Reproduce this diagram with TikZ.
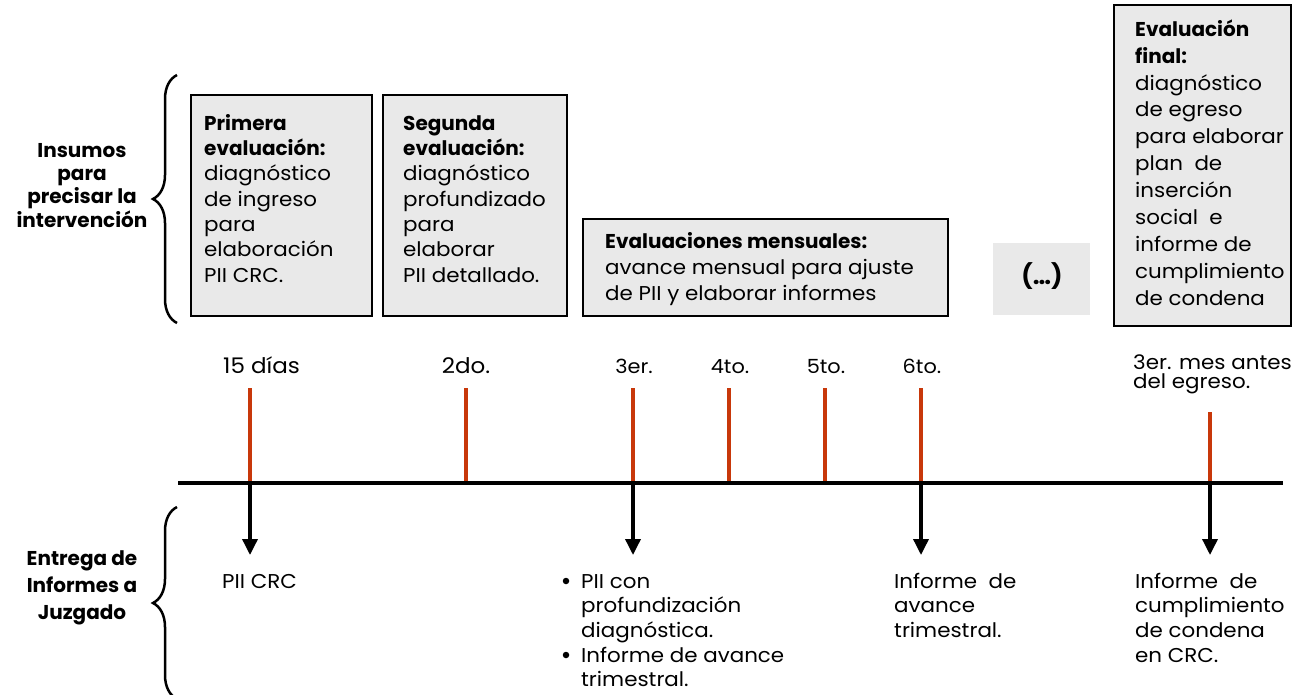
\documentclass[tikz,border=0pt]{standalone}
\usepackage{fontspec}
\setmainfont{Poppins}[FakeStretch=1.07,BoldFeatures={FakeStretch=1.0}]
\usetikzlibrary{decorations.pathreplacing,arrows.meta}
\definecolor{boxgray}{RGB}{233,233,233}
\definecolor{tickred}{RGB}{200,56,10}
\newcommand{\fs}[2]{\fontsize{#1}{#2}\selectfont}
\newcommand{\topr}{\rule{0pt}{18pt}}
\begin{document}
\begin{tikzpicture}[x=1pt,y=-1pt,
  box/.style={draw=black,line width=1.5pt,fill=boxgray,anchor=north west,inner sep=0pt},
  plainbox/.style={fill=boxgray,anchor=north west,inner sep=0pt},
  txt/.style={anchor=north west,inner sep=0pt,align=left,text=black},
  bodytxt/.style={txt,font=\fs{20}{25.3}},
  sidelabel/.style={anchor=north,inner sep=0pt,align=center,font=\bfseries\fs{20}{23.3}},
  tick/.style={draw=tickred,line width=3.5pt},
  axisline/.style={draw=black,line width=3.5pt},
  arrowline/.style={draw=black,line width=3.5pt,-{Triangle[width=15pt,length=16pt]}},
  bracestyle/.style={draw=black,line width=2.5pt,decorate,decoration={brace,amplitude=24pt}},
  bullet/.style={circle,fill=black,inner sep=0pt,minimum size=6.5pt},
  lbl/.style={anchor=base,inner sep=0pt}
]
\useasboundingbox (0,0) rectangle (1293,694);

% ---- left labels and braces
\node[sidelabel] (insumos) at (82,139) {\topr Insumos\\para\\precisar la\\intervención};
\node[sidelabel,font=\bfseries\fs{20}{27}] (entrega) at (82,547) {\topr Entrega de\\Informes a\\Juzgado};
\coordinate (brAtop) at (177,75);
\coordinate (brAbot) at (177,323);
\coordinate (brBtop) at (177,507);
\coordinate (brBbot) at (177,699);
\draw[bracestyle] (brAbot) -- (brAtop);
\draw[bracestyle] (brBbot) -- (brBtop);

% ---- boxes
\node[box,minimum width=181pt,minimum height=221pt] (b1) at (190,94) {};
\node[bodytxt] (b1t) at (204,112) {\topr\textbf{Primera}\\\textbf{evaluación:}\\diagnóstico\\de ingreso\\para\\elaboración\\PII CRC.};

\node[box,minimum width=184pt,minimum height=221pt] (b2) at (382,94) {};
\node[bodytxt] (b2t) at (403,112) {\topr\textbf{Segunda}\\\textbf{evaluación:}\\diagnóstico\\profundizado\\para\\elaborar\\PII detallado.};

\node[box,minimum width=365pt,minimum height=97pt] (b3) at (582,218) {};
\begin{scope}
\clip (582,218) rectangle (947,305);
\node[bodytxt,font=\fs{20}{26}] (b3t) at (605,230) {\topr\textbf{Evaluaciones mensuales:}\\avance mensual para ajuste\\de PII y elaborar informes};
\end{scope}

\node[plainbox,minimum width=97pt,minimum height=72pt] (b4) at (993,243) {};
\node[lbl,font=\bfseries\fs{24}{28}] (b4t) at (1042,284) {(…)};

\node[box,minimum width=177pt,minimum height=321pt] (b5) at (1113,4) {};
\node[bodytxt,font=\fs{20}{26.9}] (b5t) at (1135,18) {\topr\textbf{Evaluación}\\\textbf{final:}\\diagnóstico\\de egreso\\para elaborar\\plan\ \ de\\inserción\\social\ \ e\\informe de\\cumplimiento\\de condena};

% ---- timeline labels
\node[lbl,anchor=base west,font=\fs{21.5}{26}] (l1) at (223,373) {15 días};
\node[lbl,font=\fs{21.5}{26}] (l2) at (466,373) {2do.};
\node[lbl,font=\fs{19.5}{23}] (l3) at (634,373) {3er.};
\node[lbl,font=\fs{19.5}{23}] (l4) at (730,373) {4to.};
\node[lbl,font=\fs{19.5}{23}] (l5) at (826,373) {5to.};
\node[lbl,font=\fs{19.5}{23}] (l6) at (922,373) {6to.};
\node[txt,font=\fs{20}{19.5}] (l7) at (1133,351) {\topr 3er. mes antes\\del egreso.};

% ---- axis, ticks, arrows
\coordinate (axL) at (178,483);
\coordinate (axR) at (1283,483);
\foreach \n/\x/\t in {1/250/388,2/466/388,3/633/388,4/729/388,5/825/388,6/921/388,7/1210/412}{
  \coordinate (tk\n) at (\x,\t);
  \coordinate (axp\n) at (\x,483);
  \draw[tick] (tk\n) -- (axp\n);
}
\draw[axisline] (axL) -- (axR);
\foreach \n/\x in {1/250,3/633,6/921,7/1210}{
  \coordinate (ar\n) at (\x,555);
  \draw[arrowline] (axp\n) -- (ar\n);
}

% ---- bottom texts
\node[lbl,anchor=base west,font=\fs{20}{24.6}] (r1) at (222,588) {PII CRC};
\node[bodytxt,font=\fs{20}{24.6}] (r3) at (581,570) {\topr PII con\\profundización\\diagnóstica.\\Informe de avance\\trimestral.};
\node[bullet] (bu1) at (566,581) {};
\node[bullet] (bu2) at (566,655) {};
\node[bodytxt,font=\fs{20}{24.6}] (r6) at (894,570) {\topr Informe\ \ de\\avance\\trimestral.};
\node[bodytxt,font=\fs{20}{24.6}] (r7) at (1135,570) {\topr Informe\ \ de\\cumplimiento\\de condena\\en CRC.};
\end{tikzpicture}
\end{document}
